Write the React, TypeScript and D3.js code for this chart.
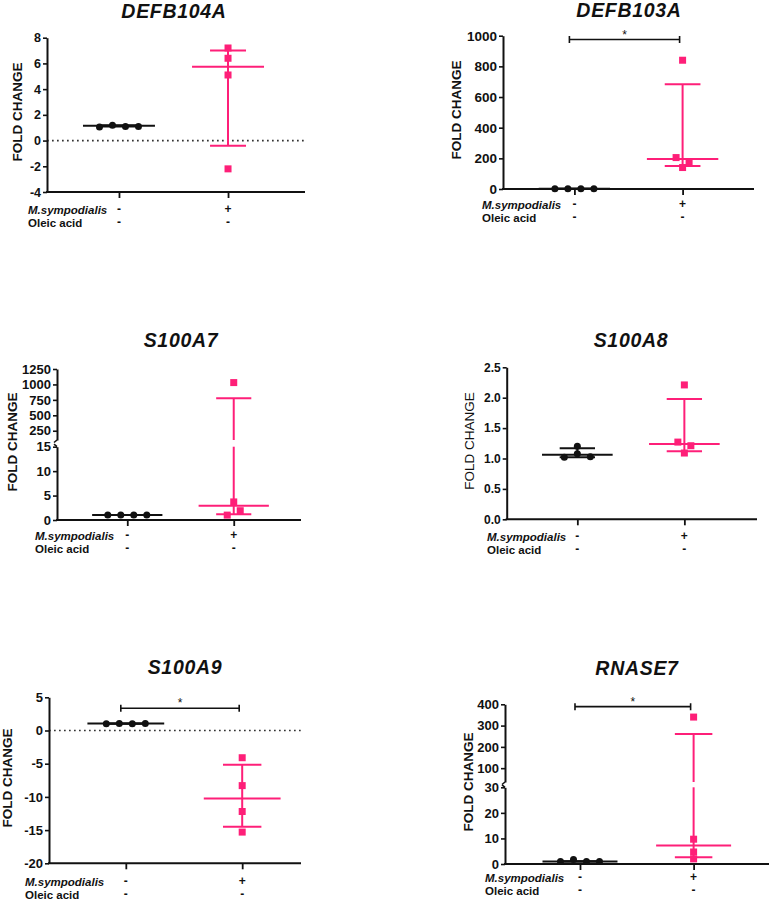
import React, { useEffect, useRef } from "react";
import * as d3 from "d3";

// genes shown, left to right, top to bottom
const genes = ["DEFB104A", "DEFB103A", "S100A7", "S100A8", "S100A9", "RNASE7"];
const groups = ["control", "msymp"];
const rowLabels = ["M.sympodialis", "Oleic acid"];
const msympRow = ["-", "+"];
const oleicRow = ["-", "-"];

// fold change (4 replicates per group)
const controlPoints = [
  [1.05, 1.2, 1.1, 1.1],
  [1, 1, 1, 1],
  [1, 1, 1, 1],
  [1.02, 1.2, 1.08, 1.03],
  [1, 1.05, 1, 1.05],
  [1, 1.8, 1, 1],
];
const controlMedian = [1.15, 1, 1, 1.06, 1.05, 1];
const controlLow = [1.1, 1, 1, 1.02, 1, 1];
const controlHigh = [1.2, 1, 1, 1.17, 1.05, 1.1];

const treatedPoints = [
  [7.2, 6.4, 5.1, -2.2],
  [840, 205, 175, 140],
  [1030, 3.7, 1.0, 1.9],
  [2.21, 1.27, 1.21, 1.09],
  [-4.1, -8.3, -12.2, -15.3],
  [340, 9.7, 4.7, 2.0],
];
const treatedMedian = [5.75, 195, 2.9, 1.24, -10.25, 7.2];
const treatedLow = [-0.4, 150, 1.2, 1.12, -14.5, 2.6];
const treatedHigh = [7.0, 683, 775, 1.98, -5.15, 260];

// significance bar height (null = none)
const significance = [null, 975, null, null, 3.35, 389];

// y axis: one segment, or two for the broken axes
const yDomains = [
  [[-4, 8]],
  [[0, 1000]],
  [[0, 15], [100, 1250]],
  [[0, 2.5]],
  [[-20, 5]],
  [[0, 30], [35, 400]],
];
const yTickValues = [
  [-4, -2, 0, 2, 4, 6, 8],
  [0, 200, 400, 600, 800, 1000],
  [0, 5, 10, 15, 250, 500, 750, 1000, 1250],
  [0, 0.5, 1, 1.5, 2, 2.5],
  [-20, -15, -10, -5, 0, 5],
  [0, 10, 20, 30, 100, 200, 300, 400],
];
const tickDecimals = [0, 0, 0, 1, 0, 0];

// panel placement on the page
const panels = [
  { left: 47, right: 300, axisEnd: 305, ranges: [[192, 37.7]], title: [174, 17.5], yLabel: [22, 112], labelX: 28, rowDy: 22, labelWeight: "bold", tickFs: 12.5 },
  { left: 503, right: 754, axisEnd: 754, ranges: [[189, 35.7]], title: [629, 17], yLabel: [461, 110], labelX: 482, rowDy: 20, labelWeight: "bold", tickFs: 13.5 },
  { left: 57, right: 304, axisEnd: 301, ranges: [[520, 446.7], [440, 369]], title: [181, 346.5], yLabel: [17, 442], labelX: 35, rowDy: 20, labelWeight: "bold", tickFs: 13 },
  { left: 506.7, right: 755, axisEnd: 757, ranges: [[519.3, 367.3]], title: [631, 347], yLabel: [474, 441], labelX: 487, rowDy: 22, labelWeight: "normal", tickFs: 12 },
  { left: 49, right: 319, axisEnd: 301, ranges: [[863.3, 697.3]], title: [185, 674], yLabel: [12, 778], labelX: 25, rowDy: 23, labelWeight: "bold", tickFs: 13 },
  { left: 505, right: 768.6, axisEnd: 769, ranges: [[864, 787.3], [782, 704.3]], title: [637, 675], yLabel: [473, 782], labelX: 485, rowDy: 18, labelWeight: "bold", tickFs: 13 },
];

const PINK = "#fe1f78";
const INK = "#111";
const FONT = "'Liberation Sans', Arial, sans-serif";

// GraphPad-like horizontal spread of points that sit at nearly the same height
function spread(values, y, gap = 13, thresh = 6) {
  const order = values.map((_, i) => i).sort((a, b) => y(values[a]) - y(values[b]));
  const offs = new Array(values.length).fill(0);
  let group = [];
  let startY = null;
  const flush = () => {
    const g = [...group].sort((a, b) => a - b);
    g.forEach((idx, k) => (offs[idx] = (k - (g.length - 1) / 2) * gap));
  };
  order.forEach((i) => {
    const py = y(values[i]);
    if (startY === null || Math.abs(py - startY) >= thresh) {
      if (group.length) flush();
      group = [i];
      startY = py;
    } else group.push(i);
  });
  if (group.length) flush();
  return offs;
}

function drawPanel(svg, gi) {
  const p = panels[gi];
  const segs = yDomains[gi].map((dom, k) =>
    d3.scaleLinear().domain(dom).range(p.ranges[k])
  );
  const segFor = (v) => {
    for (let k = segs.length - 1; k >= 0; k--) if (v >= segs[k].domain()[0]) return segs[k];
    return segs[0];
  };
  const y = (v) => segFor(v)(v);
  const x = d3.scalePoint().domain(groups).range([p.left, p.right]).padding(0.66);
  const step = x.step();
  const bottom = p.ranges[0][0];

  const g = svg.append("g").attr("font-family", FONT);

  // title
  g.append("text")
    .attr("x", p.title[0]).attr("y", p.title[1])
    .attr("text-anchor", "middle")
    .attr("font-size", 19.5).attr("font-weight", "bold").attr("font-style", "italic")
    .attr("letter-spacing", 0.7)
    .attr("fill", INK)
    .text(genes[gi]);

  // y label
  g.append("text")
    .attr("transform", `translate(${p.yLabel[0]},${p.yLabel[1]}) rotate(-90)`)
    .attr("text-anchor", "middle")
    .attr("font-size", 13.5).attr("font-weight", p.labelWeight)
    .attr("fill", INK)
    .text("FOLD CHANGE");

  // dotted zero line
  if (yDomains[gi][0][0] < 0) {
    g.append("line")
      .attr("x1", p.left).attr("x2", p.axisEnd)
      .attr("y1", y(0)).attr("y2", y(0))
      .attr("stroke", "#333").attr("stroke-width", 1.7)
      .attr("stroke-dasharray", "1.7,3.3");
  }

  // y axis segments
  const fmt = (v) => v.toFixed(tickDecimals[gi]);
  segs.forEach((s, k) => {
    const dom = s.domain();
    const ticks = yTickValues[gi].filter((t) => t >= dom[0] && t <= dom[1]);
    const ax = g.append("g")
      .attr("transform", `translate(${p.left},0)`)
      .call(d3.axisLeft(s).tickValues(ticks).tickFormat(fmt).tickSize(4).tickSizeOuter(0).tickPadding(2));
    ax.select(".domain").attr("stroke", INK).attr("stroke-width", 2);
    ax.selectAll(".tick line").attr("stroke", INK).attr("stroke-width", 1.6);
    ax.selectAll(".tick text")
      .attr("fill", INK).attr("font-size", p.tickFs).attr("font-weight", "bold")
      .attr("font-family", FONT);
    if (segs.length > 1) {
      const r = s.range();
      const yEnd = k === 0 ? r[1] : r[0];
      const dir = k === 0 ? -1 : 1;
      g.append("path")
        .attr("d", `M${p.left},${yEnd} l-3,${dir * 2.5}`)
        .attr("stroke", INK).attr("stroke-width", 1.6).attr("fill", "none");
    }
  });

  // x axis
  g.append("line")
    .attr("x1", p.left - 1).attr("x2", p.axisEnd)
    .attr("y1", bottom).attr("y2", bottom)
    .attr("stroke", INK).attr("stroke-width", 2);
  const xa = g.append("g")
    .attr("transform", `translate(0,${bottom})`)
    .call(d3.axisBottom(x).tickSize(6).tickFormat(() => ""));
  xa.select(".domain").remove();
  xa.selectAll(".tick line").attr("stroke", INK).attr("stroke-width", 1.8);

  // row labels under the axis
  const r1 = bottom + p.rowDy;
  const r2 = r1 + 13;
  g.append("text").attr("x", p.labelX).attr("y", r1)
    .attr("font-size", 11.5).attr("font-weight", "bold").attr("font-style", "italic")
    .attr("fill", INK).text(rowLabels[0]);
  g.append("text").attr("x", p.labelX).attr("y", r2)
    .attr("font-size", 11.5).attr("font-weight", "bold")
    .attr("fill", INK).text(rowLabels[1]);
  groups.forEach((grp, k) => {
    g.append("text").attr("x", x(grp)).attr("y", r1 - 1).attr("text-anchor", "middle")
      .attr("font-size", 12).attr("font-weight", "bold").attr("fill", INK).text(msympRow[k]);
    g.append("text").attr("x", x(grp)).attr("y", r2 - 1).attr("text-anchor", "middle")
      .attr("font-size", 12).attr("font-weight", "bold").attr("fill", INK).text(oleicRow[k]);
  });

  // median + range per group
  const stats = [
    { grp: groups[0], color: INK, med: controlMedian[gi], lo: controlLow[gi], hi: controlHigh[gi] },
    { grp: groups[1], color: PINK, med: treatedMedian[gi], lo: treatedLow[gi], hi: treatedHigh[gi] },
  ];
  stats.forEach((st) => {
    const cx = x(st.grp);
    const medW = step * 0.33;
    const capW = step * 0.165;
    segs.forEach((s) => {
      const dom = s.domain();
      const a = Math.max(st.lo, dom[0]);
      const b = Math.min(st.hi, dom[1]);
      if (b > a) {
        g.append("line").attr("x1", cx).attr("x2", cx)
          .attr("y1", s(a)).attr("y2", s(b))
          .attr("stroke", st.color).attr("stroke-width", 2);
      }
    });
    [st.lo, st.hi].forEach((v) => {
      g.append("line").attr("x1", cx - capW).attr("x2", cx + capW)
        .attr("y1", y(v)).attr("y2", y(v))
        .attr("stroke", st.color).attr("stroke-width", 2);
    });
    g.append("line").attr("x1", cx - medW).attr("x2", cx + medW)
      .attr("y1", y(st.med)).attr("y2", y(st.med))
      .attr("stroke", st.color).attr("stroke-width", 2);
  });

  // points
  const offC = spread(controlPoints[gi], y);
  g.selectAll(null).data(controlPoints[gi]).enter().append("circle")
    .attr("cx", (d, i) => x(groups[0]) + offC[i])
    .attr("cy", (d) => y(d))
    .attr("r", 3.5)
    .attr("fill", INK);
  const offT = spread(treatedPoints[gi], y);
  const sq = 7;
  g.selectAll(null).data(treatedPoints[gi]).enter().append("rect")
    .attr("x", (d, i) => x(groups[1]) + offT[i] - sq / 2)
    .attr("y", (d) => y(d) - sq / 2)
    .attr("width", sq).attr("height", sq)
    .attr("fill", PINK);

  // significance bar
  const sig = significance[gi];
  if (sig !== null) {
    const sy = y(sig);
    const x1 = x(groups[0]) - 5;
    const x2 = x(groups[1]) - 3;
    g.append("path")
      .attr("d", `M${x1},${sy - 3.5}V${sy + 3.5}M${x1},${sy}H${x2}M${x2},${sy - 3.5}V${sy + 3.5}`)
      .attr("stroke", INK).attr("stroke-width", 1.6).attr("fill", "none");
    g.append("text").attr("x", (x1 + x2) / 2).attr("y", sy - 1)
      .attr("text-anchor", "middle").attr("font-size", 12).attr("fill", INK).text("*");
  }
}

export default function App() {
  const svgRef = useRef(null);

  useEffect(() => {
    const svg = d3.select(svgRef.current);
    svg.selectAll("*").remove();
    genes.forEach((_, gi) => drawPanel(svg, gi));
  }, []);

  return (
    <svg
      ref={svgRef}
      width={769}
      height={900}
      style={{ position: "absolute", left: 0, top: 0, background: "#fff" }}
    />
  );
}
